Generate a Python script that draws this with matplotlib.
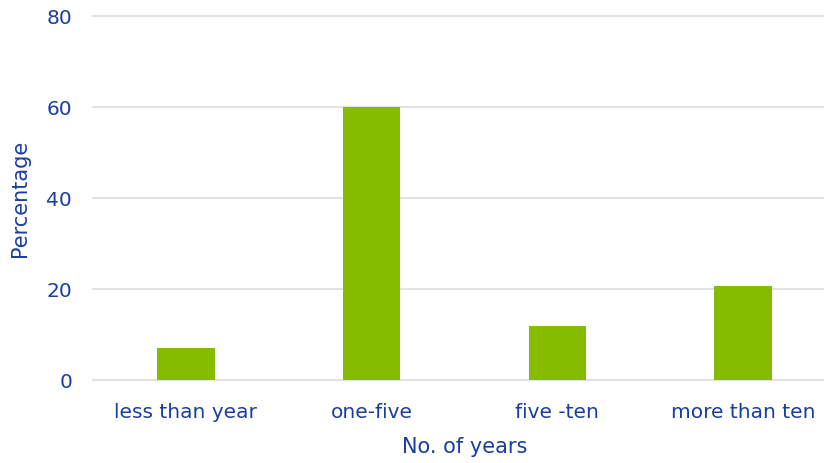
import matplotlib
matplotlib.use("Agg")
import matplotlib.pyplot as plt

categories = ["less than year", "one-five", "five -ten", "more than ten"]
values = [7, 60, 11.7, 20.5]
yticks = [0, 20, 40, 60, 80]

text_color = "#1A3DA0"
bar_color = "#86BC00"
grid_color = "#E2E2E2"

plt.rcParams['font.family'] = ['DejaVu Sans']

fig = plt.figure(figsize=(8.24, 4.64), dpi=100)
x0, x1 = 93 / 824, 836 / 824
y0, y1 = 1 - 380.5 / 464, 1 - 16.5 / 464
ax = fig.add_axes([x0, y0, x1 - x0, y1 - y0])

ax.bar(range(len(categories)), values, width=0.31, color=bar_color, zorder=3)
ax.set_xlim(-0.5, len(categories) - 0.5)
ax.set_ylim(0, 80)
ax.set_yticks(yticks)
ax.set_xticks(range(len(categories)))
ax.set_xticklabels(categories)
ax.grid(axis='y', color=grid_color, linewidth=1.5, zorder=0)
for gl in ax.get_ygridlines():
    gl.set_clip_on(False)
for s in ax.spines.values():
    s.set_visible(False)
ax.tick_params(length=0, colors=text_color, labelsize=14.5)
ax.tick_params(axis='x', pad=16)
ax.tick_params(axis='y', pad=15)
ax.set_xlabel("No. of years", color=text_color, fontsize=15, labelpad=11)
ax.set_ylabel("Percentage", color=text_color, fontsize=15, labelpad=12)

fig.savefig("out.png", dpi=100)
